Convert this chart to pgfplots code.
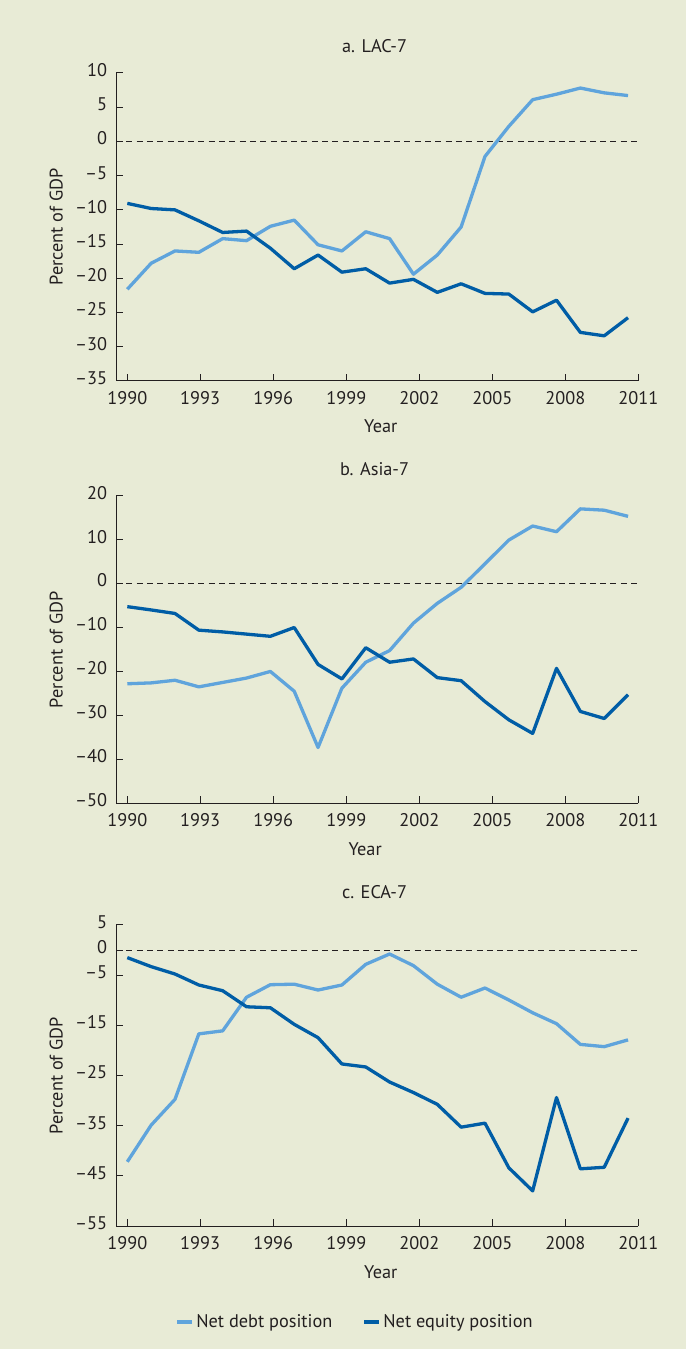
\documentclass[border=0pt]{standalone}
\usepackage{fontspec}
\setmainfont{PT Sans}
\usepackage{pgfplots}
\pgfplotsset{compat=1.18}
\definecolor{bg}{RGB}{232,235,214}
\definecolor{lightb}{RGB}{95,164,220}
\definecolor{darkb}{RGB}{0,93,166}
\definecolor{txt}{RGB}{35,31,32}
\newcommand{\fs}{\fontsize{18.3}{21}\selectfont}
\pgfplotsset{
 panel/.style={
  scale only axis, width=522.3pt,
  xmin=-0.474, xmax=21.43,
  axis x line*=bottom, axis y line*=left,
  axis line style={txt, line width=1pt, -},
  tick align=inside, major tick length=7pt, tick style={txt, line width=1pt},
  xtick={0,3.05,6.12,9.19,12.25,15.31,18.37,21.43},
  xticklabels={1990,1993,1996,1999,2002,2005,2008,2011},
  xticklabel style={font=\fs, text=txt, anchor=base, inner sep=0pt, yshift=-23.3pt},
  yticklabel style={font=\fs, text=txt, anchor=base east, inner sep=0pt, xshift=-8.7pt, yshift=-3.4pt},
  label style={font=\fs, text=txt},
  title style={font=\fs, text=txt},
  ylabel={Percent of GDP}, xlabel={Year},
  ylabel style={at={(axis description cs:-0.1024,0.5)}, anchor=base},
  xlabel style={at={(axis description cs:0.507,0)}, anchor=base, yshift=-52pt},
  title style={at={(axis description cs:0.495,1)}, anchor=base, yshift=14pt},
  debt/.style={lightb, line width=3.3pt, line join=round},
  eq/.style={darkb, line width=3.3pt, line join=round},
 },
 zero/.style={txt, line width=0.9pt, dash pattern=on 6pt off 4.3pt, forget plot},
}
\begin{document}
\begin{tikzpicture}
\useasboundingbox (0,0) rectangle (686pt,1349pt);
\fill[bg] (0,0) rectangle (686pt,1349pt);

% Panel a
\begin{axis}[panel, at={(116pt,968pt)}, anchor=south west, height=308pt,
  ymin=-35, ymax=10, ytick={-35,-30,-25,-20,-15,-10,-5,0,5,10},
  yticklabels={–35,–30,–25,–20,–15,–10,–5,0,5,10},
  title={a. LAC-7}]
\addplot[zero] coordinates {(-0.474,0) (21.43,0)};
\addplot[debt] coordinates {(0,-21.6) (1,-17.8) (2,-16.0) (3,-16.2) (4,-14.2) (5,-14.5) (6,-12.4) (7,-11.5) (8,-15.1) (9,-16.0) (10,-13.2) (11,-14.2) (12,-19.4) (13,-16.6) (14,-12.5) (15,-2.2) (16,2.2) (17,6.1) (18,6.9) (19,7.8) (20,7.1) (21,6.7)};
\addplot[eq] coordinates {(0,-9.05) (1,-9.8) (2,-10.0) (3,-11.6) (4,-13.3) (5,-13.1) (6,-15.6) (7,-18.6) (8,-16.6) (9,-19.1) (10,-18.6) (11,-20.7) (12,-20.15) (13,-22.05) (14,-20.8) (15,-22.2) (16,-22.3) (17,-24.9) (18,-23.2) (19,-27.9) (20,-28.4) (21,-25.75)};
\end{axis}

% Panel b
\begin{axis}[panel, at={(116pt,545.7pt)}, anchor=south west, height=307.6pt,
  ymin=-50, ymax=20, ytick={-50,-40,-30,-20,-10,0,10,20},
  yticklabels={–50,–40,–30,–20,–10,0,10,20},
  xlabel style={at={(axis description cs:0.477,0)}},
  title={b. Asia-7}]
\addplot[zero] coordinates {(-0.474,0) (21.43,0)};
\addplot[debt] coordinates {(0,-22.8) (1,-22.6) (2,-22.0) (3,-23.5) (4,-22.5) (5,-21.5) (6,-20.0) (7,-24.5) (8,-37.3) (9,-23.8) (10,-17.9) (11,-15.25) (12,-9.0) (13,-4.5) (14,-0.85) (15,4.5) (16,9.9) (17,13.1) (18,11.8) (19,17.0) (20,16.7) (21,15.3)};
\addplot[eq] coordinates {(0,-5.25) (1,-6.0) (2,-6.8) (3,-10.6) (4,-11.0) (5,-11.5) (6,-12.0) (7,-10.0) (8,-18.4) (9,-21.7) (10,-14.6) (11,-17.9) (12,-17.15) (13,-21.4) (14,-22.1) (15,-26.85) (16,-31.0) (17,-34.1) (18,-19.3) (19,-29.1) (20,-30.7) (21,-25.3)};
\end{axis}

% Panel c
\begin{axis}[panel, at={(116pt,123pt)}, anchor=south west, height=301pt,
  ymin=-55, ymax=5, ytick={-55,-45,-35,-25,-15,-5,0,5},
  yticklabels={–55,–45,–35,–25,–15,–5,0,5},
  title={c. ECA-7}, title style={yshift=6pt},
  legend style={at={(axis description cs:0.4576,-0.319)}, anchor=center, draw=none, fill=none,
    font=\fs, text=txt, legend columns=2,
    /tikz/every even column/.append style={column sep=28pt}},
  legend image code/.code={\draw[#1, line width=4pt] (0pt,0pt) -- (15pt,0pt);}]
\addplot[zero] coordinates {(-0.474,0) (21.43,0)};
\addplot[debt] coordinates {(0,-42.2) (1,-34.9) (2,-29.75) (3,-16.7) (4,-16.1) (5,-9.4) (6,-6.9) (7,-6.8) (8,-7.96) (9,-6.96) (10,-2.84) (11,-0.78) (12,-3.1) (13,-6.8) (14,-9.4) (15,-7.56) (16,-9.95) (17,-12.5) (18,-14.67) (19,-18.8) (20,-19.25) (21,-17.9)};
\addlegendentry{Net debt position}
\addplot[eq] coordinates {(0,-1.5) (1,-3.3) (2,-4.77) (3,-6.96) (4,-8.1) (5,-11.3) (6,-11.5) (7,-14.8) (8,-17.46) (9,-22.7) (10,-23.3) (11,-26.3) (12,-28.4) (13,-30.75) (14,-35.3) (15,-34.5) (16,-43.4) (17,-48.0) (18,-29.4) (19,-43.6) (20,-43.3) (21,-33.5)};
\addlegendentry{Net equity position}
\end{axis}
\end{tikzpicture}
\end{document}
